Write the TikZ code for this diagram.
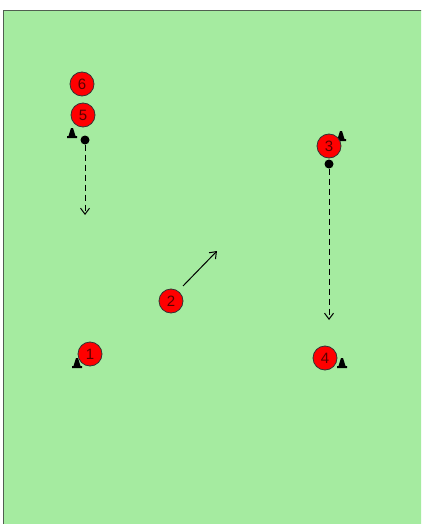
\documentclass[tikz,border=0pt]{standalone}
\usepackage{fontspec}
\setmainfont{Liberation Sans}
\usetikzlibrary{arrows.meta}
\definecolor{field}{RGB}{165,235,160}
\definecolor{fieldline}{RGB}{80,95,80}
\definecolor{numcol}{RGB}{90,0,0}
\tikzset{
  player/.style={circle, draw=black!80, line width=0.8pt, fill=red, minimum size=24pt, inner sep=0pt, font=\fontsize{15}{15}\selectfont, text=numcol},
  ball/.style={circle, fill=black, minimum size=9pt, inner sep=0pt},
  run/.style={draw=black, line width=1pt, dash pattern=on 6pt off 4pt, -{Straight Barb[length=6pt,width=9pt]}},
  pass/.style={draw=black, line width=1pt, -{Straight Barb[length=6pt,width=9pt]}},
  conemark/.pic={\fill[black] (-5,0) -- (5,0) -- (5,-2) -- (3.5,-2) -- (1,-10) -- (-1,-10) -- (-3.5,-2) -- (-5,-2) -- cycle;}
}
\begin{document}
\begin{tikzpicture}[x=1pt,y=-1pt]
\useasboundingbox (0,0) rectangle (421,524);
\clip (0,0) rectangle (421,524);
\fill[white] (0,0) rectangle (421,524);
\fill[field] (3.5,10.5) rectangle (430,530);
\draw[fieldline, line width=1.5pt] (3.5,530) -- (3.5,10.5) -- (430,10.5);
% cones
\pic at (72,138) {conemark};
\pic at (341,141) {conemark};
\pic at (77,368) {conemark};
\pic at (342,368) {conemark};
% players
\node[player] (p6) at (82,84) {6};
\node[player] (p5) at (83,115) {5};
\node[player] (p3) at (329,146) {3};
\node[player] (p2) at (171,301) {2};
\node[player] (p1) at (90,354) {1};
\node[player] (p4) at (325,358) {4};
% balls
\node[ball] (b5) at (85,140) {};
\node[ball] (b3) at (329,164) {};
% movement ends
\coordinate (e5) at (85,215);
\coordinate (e3) at (329,320);
\coordinate (s2) at (183,286);
\coordinate (e2) at (217,251);
\draw[run] (b5.south) -- (e5);
\draw[run] (b3.south) -- (e3);
\draw[pass] (s2) -- (e2);
\end{tikzpicture}
\end{document}
